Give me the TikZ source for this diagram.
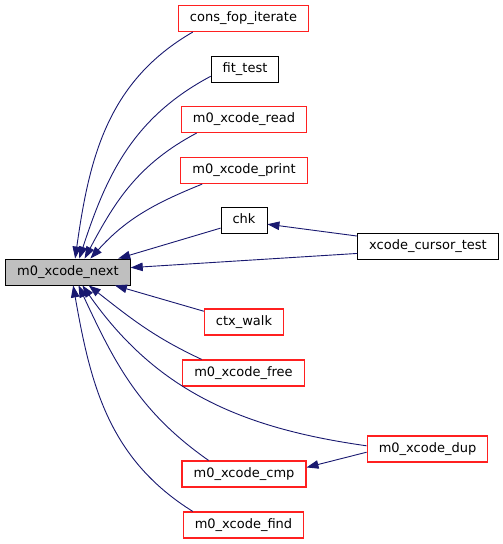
\documentclass[tikz,border=0pt]{standalone}
\usepackage{fontspec}
\setmainfont{DejaVu Sans}
\usetikzlibrary{arrows.meta}
\definecolor{edgeblue}{HTML}{191970}
\definecolor{boxred}{HTML}{FF2020}
\definecolor{boxgrey}{HTML}{BFBFBF}

\begin{document}
\begin{tikzpicture}[x=1pt, y=1pt, >={Triangle[length=12pt,width=8.5pt]},
  fn/.style={draw=boxred, fill=white, line width=1.2pt, minimum height=26pt,
    inner xsep=11.5pt, inner ysep=0pt, text height=9.6pt, text depth=2.8pt,
    font=\fontsize{13}{15}\selectfont},
  fnblack/.style={fn, draw=black, line width=0.9pt},
  call/.style={->, draw=edgeblue, line width=0.9pt}]
  \useasboundingbox (0,0) rectangle (503,-544);
  % The function whose callers are shown
  \node[fnblack, fill=boxgrey] (next) at (68,-272) {m0\_xcode\_next};
  % Direct callers
  \node[fn] (iterate) at (243.5,-18.5) {cons\_fop\_iterate};
  \node[fnblack] (fittest) at (245,-69) {fit\_test};
  \node[fn] (read) at (244,-119.5) {m0\_xcode\_read};
  \node[fn] (print) at (244,-170.5) {m0\_xcode\_print};
  \node[fnblack] (chk) at (244,-220.5) {chk};
  \node[fnblack] (cursor) at (428,-246) {xcode\_cursor\_test};
  \node[fn] (ctxwalk) at (244,-322) {ctx\_walk};
  \node[fn] (free) at (243.5,-373) {m0\_xcode\_free};
  \node[fn] (dup) at (427.5,-449) {m0\_xcode\_dup};
  \node[fn] (cmp) at (244,-474) {m0\_xcode\_cmp};
  \node[fn] (find) at (243.5,-525) {m0\_xcode\_find};
  % Calls into m0_xcode_next
  \draw[call] (iterate.195) to[out=210, in=82] (next.62);
  \draw[call] (fittest.192) to[out=208, in=72] (next.50);
  \draw[call] (read.196) to[out=208, in=62] (next.39);
  \draw[call] (print.198) to[out=202, in=48] (next.31);
  \draw[call] (chk.198) -- (next.15);
  \draw[call] (cursor.186) -- (next.4);
  \draw[call] (ctxwalk.165) -- (next.-16);
  \draw[call] (free.162) to[out=155, in=-38] (next.-33);
  \draw[call] (dup.177) to[out=172, in=-55] (next.-43);
  \draw[call] (cmp.159) to[out=145, in=-65] (next.-52);
  \draw[call] (find.165) to[out=148, in=-80] (next.-69);
  % Calls between callers
  \draw[call] (dup.183) -- (cmp.6);
  \draw[call] (cursor.172) -- (chk.-9);
\end{tikzpicture}
\end{document}
